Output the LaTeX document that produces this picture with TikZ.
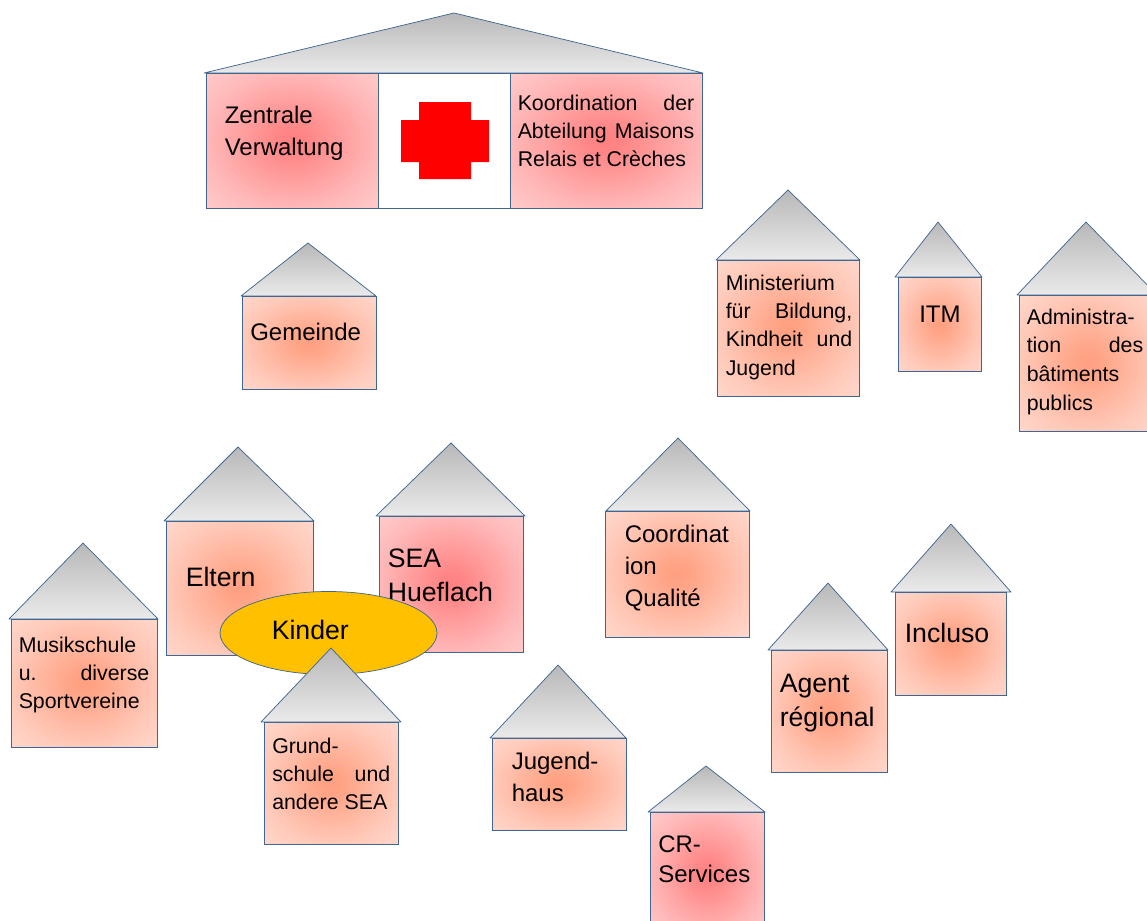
\documentclass[tikz,border=0pt]{standalone}
\usepackage{fontspec}
\setmainfont{Liberation Sans}
\definecolor{roofbot}{HTML}{EAEAEA}
\definecolor{rooftop}{HTML}{B8B8B8}
\definecolor{linecol}{HTML}{41668F}
\definecolor{kinderfill}{HTML}{FFC000}
\definecolor{crossred}{HTML}{FF0000}
\definecolor{oin}{HTML}{FF9F80}
\definecolor{oout}{HTML}{FFE0D8}
\definecolor{rin}{HTML}{FF8080}
\definecolor{rout}{HTML}{FFD6D6}
\pgfdeclareverticalshading{roofshade}{100bp}{color(0bp)=(roofbot); color(25bp)=(roofbot); color(75bp)=(rooftop); color(100bp)=(rooftop)}
\pgfdeclareradialshading{orangeglow}{\pgfpoint{0bp}{0bp}}{color(0bp)=(oin); color(5bp)=(oin!92!oout); color(25bp)=(oin!35!oout); color(42bp)=(oout); color(100bp)=(oout)}
\pgfdeclareradialshading{redglow}{\pgfpoint{0bp}{0bp}}{color(0bp)=(rin); color(5bp)=(rin!92!rout); color(25bp)=(rin!35!rout); color(42bp)=(rout); color(100bp)=(rout)}
\tikzset{
  roof/.style={draw=linecol,line width=0.55pt,line join=round,shading=roofshade},
  bodyo/.style={draw=linecol,line width=0.55pt,shading=orangeglow},
  bodyr/.style={draw=linecol,line width=0.55pt,shading=redglow},
  lbl/.style={anchor=base west,inner sep=0pt,text=black},
}
% house: apex x,y; roof left, right, y; body left, right, bottom; body style
\newcommand\house[9]{%
  \path[roof] (#1,#2) -- (#3,#5) -- (#4,#5) -- cycle;
  \path[#9] (#6,#5) rectangle (#7,#8);
}
\newcommand\szs{\fontsize{16}{21.3}\selectfont}
\newcommand\szm{\fontsize{18}{24}\selectfont}
\newcommand\szl{\fontsize{20}{25.6}\selectfont}
\begin{document}
\begin{tikzpicture}[x=0.75pt,y=-0.75pt]
\useasboundingbox (0,0) rectangle (1147,921);
\clip (0,0) rectangle (1147,921);
% central building
\path[roof] (454,13) -- (204,73) -- (703,73) -- cycle;
\path[bodyr] (206,73) rectangle (378,208);
\path[draw=linecol,line width=0.55pt,fill=white] (378,73) rectangle (510,208);
\path[bodyr] (510,73) rectangle (702,208);
\path[fill=crossred] (419,102) -- (471,102) -- (471,120) -- (489,120) -- (489,162) -- (471,162) -- (471,179) -- (419,179) -- (419,162) -- (401,162) -- (401,120) -- (419,120) -- cycle;
\node (zentrale) [lbl] at (224.5,123) {\szm\vtop{\hbox{Zentrale}\hbox{Verwaltung}}};
\node (koord) [lbl] at (517.5,110) {\szs\vtop{\hbox to 132.4pt{Koordination\hfill der}\hbox to 132.4pt{Abteilung\hfill Maisons}\hbox{Relais et Crèches}}};
% upper houses
\house{308}{243}{241}{376}{296}{242}{376}{389}{bodyo}
\node (gemeinde) [lbl] at (250,340) {\szm Gemeinde};
\house{788}{190}{716}{860}{260}{717}{859}{396}{bodyo}
\node (minist) [lbl] at (725.5,290) {\szs\vtop{\hbox{Ministerium}\hbox to 94.9pt{für\hfill Bildung,}\hbox to 94.9pt{Kindheit\hfill und}\hbox{Jugend}}};
\house{938}{222}{895}{982}{277}{898}{981}{371}{bodyo}
\node (itm) [lbl] at (919,322) {\szm ITM};
\house{1086}{222}{1017}{1157}{295}{1019}{1157}{431}{bodyo}
\node (admin) [lbl] at (1026.5,324) {\fontsize{16}{21.6}\selectfont\vtop{\hbox{Administra-}\hbox to 87.4pt{tion\hfill des}\hbox{bâtiments}\hbox{publics}}};
% middle and lower houses
\house{83}{543}{9}{158}{619}{11}{157}{747}{bodyo}
\node (musik) [lbl] at (18.5,652) {\szs\vtop{\hbox{Musikschule}\hbox to 97.9pt{u.\hfill diverse}\hbox{Sportvereine}}};
\house{238}{447}{164}{314}{521}{166}{313}{655}{bodyo}
\node (eltern) [lbl] at (185.5,586) {\szl Eltern};
\house{451}{443}{376}{525}{516}{379}{523}{652}{bodyr}
\node (sea) [lbl] at (387.5,567) {\szl\vtop{\hbox{SEA}\hbox{Hueflach}}};
\path[draw=linecol,line width=0.55pt,fill=kinderfill] (328.5,633) ellipse [x radius=108.5, y radius=41.5];
\node (kinder) [lbl] at (271.5,639) {\szl Kinder};
\house{331}{648}{261}{401}{722}{264}{398}{844}{bodyo}
\node (grund) [lbl] at (272,753) {\szs\vtop{\hbox{Grund-}\hbox to 88.5pt{schule\hfill und}\hbox{andere SEA}}};
\house{678}{438}{606}{750}{511}{605}{749}{637}{bodyo}
\node (coord) [lbl] at (624.5,542) {\szm\vtop{\hbox{Coordinat}\hbox{ion}\hbox{Qualité}}};
\house{558}{665}{490}{626}{738}{492}{626}{830}{bodyo}
\node (jugend) [lbl] at (511.5,769) {\szm\vtop{\hbox{Jugend-}\hbox{haus}}};
\house{706}{766}{648}{765}{812}{650}{764}{935}{bodyr}
\node (cr) [lbl] at (658,852) {\fontsize{18}{22.5}\selectfont\vtop{\hbox{CR-}\hbox{Services}}};
\house{828}{583}{768}{888}{650}{771}{887}{772}{bodyo}
\node (agent) [lbl] at (779.5,692) {\szl\vtop{\hbox{Agent}\hbox{régional}}};
\house{951}{524}{891}{1011}{592}{895}{1006}{695}{bodyo}
\node (incluso) [lbl] at (904.5,642) {\szl Incluso};
\end{tikzpicture}
\end{document}
